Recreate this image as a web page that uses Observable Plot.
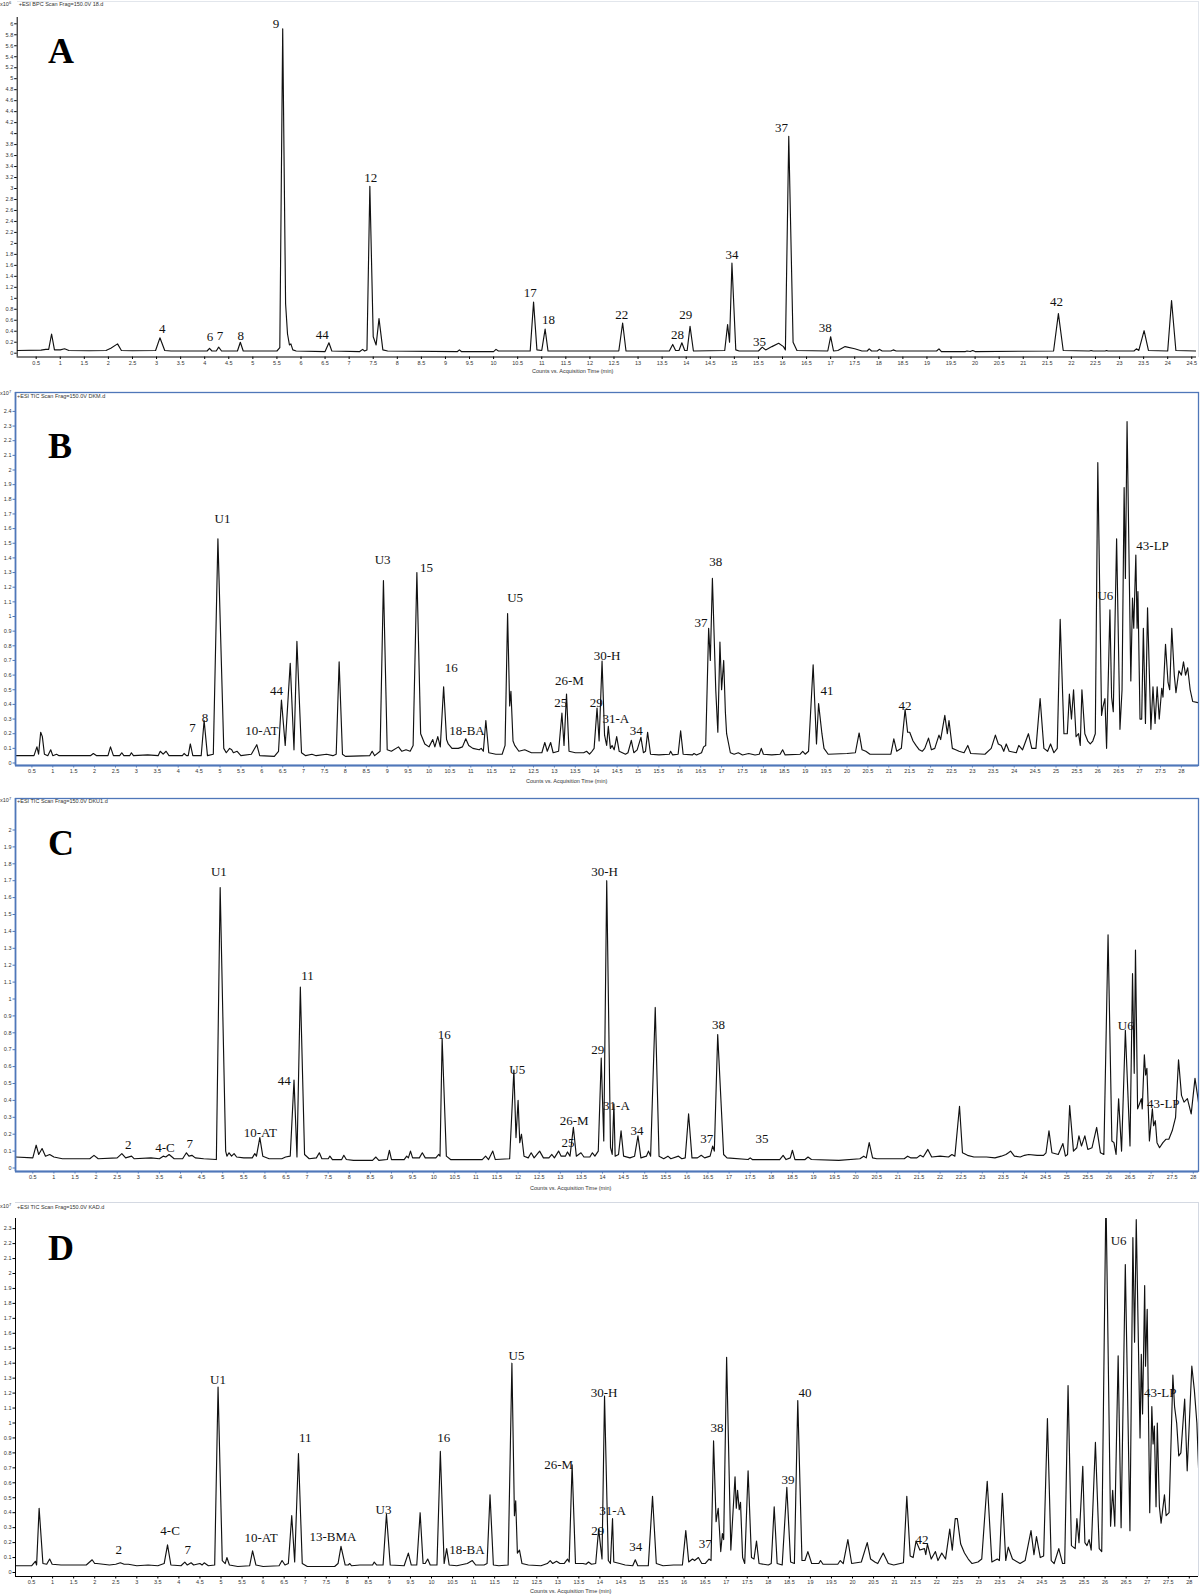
<!DOCTYPE html>
<html><head><meta charset="utf-8">
<script src="https://cdn.jsdelivr.net/npm/d3@7"></script>
<script src="https://cdn.jsdelivr.net/npm/@observablehq/plot@0.6"></script>
<style>
html,body{margin:0;padding:0;background:#fff}
body{width:1200px;height:1596px;position:relative;overflow:hidden;font-family:"Liberation Sans",Arial,sans-serif}
.pane{position:absolute;left:0}
.tiny{position:absolute;font-size:5.5px;line-height:1;color:#333;white-space:nowrap;font-family:"Liberation Sans",Arial,sans-serif}
.tiny sup{font-size:4px;vertical-align:top;position:relative;top:-1px}
.letter{position:absolute;width:60px;text-align:center;font-family:"Liberation Serif","Times New Roman",serif;font-weight:bold;font-size:36px;line-height:1;color:#000}
.box{position:absolute;box-sizing:border-box}
</style></head><body>
<script>
// ---------- Panel A (x10^6 counts) ----------
const A_trace = [[0.11,0.05],[0.6,0.055],[0.7,0.07],[0.76,0.07],[0.82,0.35],[0.88,0.06],[1.0,0.06],[1.09,0.08],[1.18,0.05],[1.6,0.045],[1.95,0.05],[2.05,0.09],[2.19,0.17],[2.27,0.05],[2.5,0.045],[2.98,0.05],[3.07,0.28],[3.17,0.05],[3.3,0.04],[4.05,0.04],[4.1,0.09],[4.15,0.04],[4.24,0.04],[4.29,0.11],[4.35,0.04],[4.68,0.04],[4.74,0.2],[4.8,0.04],[5.5,0.04],[5.56,0.1],[5.62,5.91],[5.68,0.9],[5.72,0.35],[5.76,0.15],[5.79,0.17],[5.83,0.06],[5.9,0.04],[6.5,0.03],[6.58,0.19],[6.64,0.04],[7.22,0.03],[7.28,0.07],[7.32,0.04],[7.37,0.06],[7.43,3.04],[7.5,0.3],[7.56,0.15],[7.62,0.63],[7.7,0.06],[7.8,0.04],[9.25,0.03],[9.29,0.06],[9.33,0.03],[10.0,0.03],[10.05,0.07],[10.1,0.04],[10.76,0.04],[10.83,0.93],[10.9,0.06],[11.0,0.05],[11.07,0.44],[11.13,0.04],[12.6,0.04],[12.68,0.55],[12.75,0.04],[13.65,0.04],[13.72,0.16],[13.78,0.05],[13.85,0.05],[13.91,0.19],[13.97,0.05],[14.02,0.05],[14.08,0.49],[14.15,0.04],[14.8,0.05],[14.86,0.52],[14.9,0.2],[14.95,1.64],[15.03,0.06],[15.1,0.04],[15.5,0.04],[15.58,0.11],[15.65,0.06],[15.78,0.12],[15.92,0.18],[16.02,0.12],[16.06,0.06],[16.13,3.95],[16.22,0.2],[16.3,0.05],[16.94,0.04],[17.0,0.3],[17.06,0.04],[17.15,0.05],[17.3,0.12],[17.5,0.08],[17.65,0.04],[17.76,0.04],[17.8,0.08],[17.85,0.04],[17.97,0.04],[18.01,0.07],[18.07,0.04],[18.25,0.04],[18.3,0.06],[18.36,0.04],[19.2,0.04],[19.25,0.08],[19.3,0.03],[19.8,0.03],[19.83,0.04],[19.9,0.03],[19.95,0.05],[20.0,0.03],[21.63,0.04],[21.73,0.72],[21.83,0.05],[22.37,0.04],[22.41,0.05],[22.45,0.04],[22.7,0.04],[22.73,0.05],[22.76,0.04],[23.3,0.04],[23.35,0.08],[23.4,0.05],[23.51,0.41],[23.6,0.05],[24.0,0.04],[24.08,0.96],[24.17,0.05],[24.6,0.04]];
const A_labels = ["4","6","7","8","9","44","12","17","18","22","28","29","34","35","37","38","42"];
const A_labelT = [3.12,4.11,4.32,4.75,5.48,6.44,7.45,10.76,11.14,12.66,13.82,13.99,14.95,15.52,15.98,16.89,21.69];
const A_labelV = [0.44,0.29,0.32,0.32,6.0,0.34,3.19,1.1,0.61,0.7,0.33,0.69,1.8,0.2,4.1,0.46,0.94];

// ---------- Panel B (x10^7 counts) ----------
const B_trace = [[0.09,0.05],[0.55,0.05],[0.62,0.11],[0.66,0.06],[0.71,0.21],[0.75,0.18],[0.8,0.06],[0.88,0.05],[0.95,0.09],[1.0,0.05],[1.09,0.06],[1.15,0.05],[1.9,0.05],[1.97,0.065],[2.05,0.05],[2.32,0.05],[2.38,0.11],[2.45,0.05],[2.6,0.05],[2.65,0.07],[2.7,0.05],[2.84,0.05],[2.88,0.07],[2.93,0.05],[3.27,0.055],[3.52,0.05],[3.57,0.08],[3.64,0.06],[3.71,0.08],[3.78,0.05],[4.1,0.05],[4.14,0.065],[4.2,0.05],[4.24,0.05],[4.29,0.13],[4.35,0.05],[4.55,0.05],[4.62,0.29],[4.7,0.05],[4.84,0.06],[4.95,1.53],[5.09,0.1],[5.15,0.07],[5.23,0.1],[5.28,0.09],[5.32,0.07],[5.41,0.08],[5.5,0.05],[5.75,0.06],[5.88,0.125],[5.95,0.05],[6.3,0.045],[6.4,0.08],[6.47,0.43],[6.56,0.12],[6.68,0.68],[6.77,0.09],[6.84,0.83],[6.95,0.07],[7.05,0.05],[7.2,0.06],[7.3,0.05],[7.55,0.06],[7.7,0.05],[7.78,0.06],[7.85,0.69],[7.93,0.06],[8.0,0.045],[8.58,0.05],[8.64,0.08],[8.7,0.05],[8.83,0.08],[8.91,1.245],[9.0,0.09],[9.1,0.08],[9.27,0.11],[9.35,0.08],[9.45,0.09],[9.55,0.08],[9.62,0.12],[9.71,1.3],[9.8,0.2],[9.9,0.13],[10.0,0.11],[10.09,0.16],[10.14,0.11],[10.21,0.18],[10.27,0.11],[10.35,0.52],[10.42,0.16],[10.46,0.13],[10.55,0.1],[10.7,0.1],[10.8,0.11],[10.88,0.165],[10.95,0.12],[11.05,0.1],[11.2,0.09],[11.25,0.1],[11.3,0.08],[11.36,0.29],[11.43,0.07],[11.6,0.06],[11.75,0.06],[11.82,0.12],[11.88,1.02],[11.93,0.39],[11.96,0.49],[12.01,0.15],[12.05,0.12],[12.15,0.08],[12.29,0.09],[12.45,0.07],[12.7,0.07],[12.77,0.14],[12.83,0.08],[12.91,0.14],[12.97,0.07],[13.1,0.08],[13.18,0.34],[13.23,0.12],[13.29,0.47],[13.35,0.08],[13.5,0.07],[13.7,0.07],[13.77,0.08],[13.84,0.06],[13.9,0.08],[13.95,0.1],[14.02,0.375],[14.07,0.15],[14.14,0.695],[14.2,0.19],[14.25,0.12],[14.29,0.25],[14.34,0.1],[14.38,0.12],[14.43,0.09],[14.49,0.18],[14.55,0.08],[14.7,0.06],[14.76,0.07],[14.84,0.155],[14.9,0.07],[14.98,0.09],[15.07,0.175],[15.13,0.07],[15.18,0.08],[15.23,0.21],[15.3,0.06],[15.5,0.055],[15.75,0.06],[15.78,0.08],[15.83,0.055],[15.96,0.06],[16.02,0.22],[16.08,0.06],[16.3,0.055],[16.34,0.065],[16.4,0.055],[16.52,0.07],[16.57,0.11],[16.62,0.12],[16.69,0.92],[16.73,0.7],[16.78,1.26],[16.86,0.5],[16.91,0.21],[16.96,0.825],[17.0,0.5],[17.05,0.7],[17.09,0.35],[17.12,0.2],[17.21,0.07],[17.3,0.06],[17.4,0.07],[17.5,0.055],[17.65,0.065],[17.8,0.055],[17.9,0.06],[17.95,0.1],[18.0,0.06],[18.2,0.055],[18.4,0.06],[18.46,0.09],[18.52,0.055],[18.88,0.06],[18.94,0.08],[19.0,0.06],[19.08,0.08],[19.19,0.67],[19.27,0.13],[19.32,0.405],[19.4,0.2],[19.45,0.1],[19.55,0.06],[20.0,0.065],[20.2,0.07],[20.29,0.205],[20.36,0.09],[20.45,0.08],[20.55,0.06],[21.05,0.06],[21.12,0.165],[21.19,0.08],[21.3,0.1],[21.39,0.365],[21.45,0.21],[21.5,0.21],[21.58,0.15],[21.65,0.12],[21.73,0.09],[21.8,0.08],[21.86,0.1],[21.95,0.17],[22.02,0.09],[22.1,0.1],[22.2,0.19],[22.24,0.16],[22.34,0.325],[22.4,0.2],[22.44,0.29],[22.52,0.1],[22.6,0.09],[22.68,0.08],[22.8,0.07],[22.89,0.12],[22.96,0.065],[23.3,0.06],[23.45,0.1],[23.55,0.19],[23.62,0.13],[23.69,0.12],[23.75,0.08],[23.81,0.13],[23.88,0.08],[24.05,0.07],[24.11,0.12],[24.2,0.09],[24.34,0.2],[24.42,0.1],[24.52,0.1],[24.62,0.44],[24.71,0.1],[24.8,0.08],[24.87,0.13],[24.95,0.07],[25.03,0.1],[25.1,0.98],[25.19,0.2],[25.27,0.2],[25.32,0.47],[25.37,0.3],[25.42,0.5],[25.48,0.18],[25.54,0.2],[25.58,0.12],[25.62,0.5],[25.69,0.2],[25.76,0.15],[25.82,0.13],[25.88,0.15],[25.94,0.2],[26.0,2.05],[26.09,0.325],[26.12,0.38],[26.17,0.44],[26.21,0.1],[26.29,1.045],[26.33,0.45],[26.37,0.35],[26.45,1.53],[26.53,0.23],[26.58,0.5],[26.63,1.88],[26.66,1.26],[26.7,2.33],[26.79,0.56],[26.83,1.125],[26.86,0.92],[26.91,1.42],[26.94,0.92],[26.96,1.17],[27.01,0.3],[27.05,0.3],[27.09,0.92],[27.14,0.27],[27.19,1.06],[27.27,0.23],[27.32,0.52],[27.37,0.27],[27.42,0.52],[27.47,0.3],[27.53,0.51],[27.56,0.45],[27.62,0.81],[27.68,0.55],[27.72,0.5],[27.77,0.92],[27.83,0.6],[27.87,0.48],[27.94,0.63],[28.0,0.6],[28.05,0.69],[28.1,0.6],[28.15,0.65],[28.21,0.5],[28.27,0.42],[28.42,0.41]];
const B_labels = ["7","8","U1","10-AT","44","U3","15","16","18-BA","U5","25","26-M","29","30-H","31-A","34","37","38","41","42","U6","43-LP"];
const B_labelT = [4.34,4.64,5.06,6.0,6.35,8.89,9.94,10.53,10.91,12.06,13.15,13.36,14.0,14.26,14.47,14.96,16.51,16.86,19.52,21.39,26.18,27.31];
const B_labelV = [0.24,0.31,1.67,0.22,0.49,1.39,1.33,0.65,0.22,1.13,0.41,0.56,0.41,0.73,0.30,0.22,0.96,1.37,0.49,0.39,1.14,1.48];

// ---------- Panel C (x10^7 counts) ----------
const C_trace = [[0.09,0.065],[0.5,0.06],[0.58,0.135],[0.64,0.08],[0.72,0.115],[0.8,0.07],[0.9,0.08],[1.0,0.065],[1.2,0.055],[1.85,0.055],[1.95,0.075],[2.05,0.055],[2.5,0.06],[2.61,0.085],[2.7,0.06],[2.84,0.07],[2.9,0.055],[3.3,0.06],[3.5,0.055],[3.59,0.07],[3.65,0.065],[3.73,0.08],[3.85,0.055],[4.05,0.055],[4.14,0.09],[4.2,0.07],[4.27,0.075],[4.35,0.06],[4.55,0.055],[4.85,0.05],[4.94,1.66],[5.07,0.1],[5.1,0.07],[5.15,0.09],[5.21,0.07],[5.27,0.085],[5.33,0.065],[5.5,0.06],[5.7,0.06],[5.76,0.085],[5.8,0.07],[5.88,0.18],[5.95,0.07],[6.1,0.055],[6.4,0.055],[6.49,0.065],[6.6,0.07],[6.69,0.52],[6.76,0.065],[6.84,1.07],[6.94,0.08],[7.05,0.055],[7.22,0.06],[7.29,0.09],[7.35,0.055],[7.5,0.055],[7.54,0.07],[7.6,0.05],[7.82,0.05],[7.87,0.075],[7.93,0.05],[8.1,0.045],[8.55,0.045],[8.63,0.065],[8.7,0.045],[8.9,0.05],[8.95,0.105],[9.0,0.05],[9.3,0.05],[9.36,0.07],[9.4,0.06],[9.45,0.1],[9.5,0.06],[9.66,0.06],[9.73,0.09],[9.8,0.06],[10.05,0.06],[10.12,0.08],[10.15,0.07],[10.2,0.765],[10.3,0.07],[10.4,0.05],[11.15,0.05],[11.23,0.07],[11.3,0.05],[11.4,0.1],[11.46,0.05],[11.8,0.055],[11.9,0.58],[11.95,0.18],[12.0,0.4],[12.04,0.15],[12.08,0.2],[12.14,0.07],[12.24,0.06],[12.31,0.09],[12.38,0.06],[12.51,0.1],[12.6,0.06],[12.73,0.06],[12.8,0.08],[12.86,0.06],[12.96,0.1],[13.02,0.07],[13.12,0.07],[13.17,0.095],[13.23,0.07],[13.31,0.24],[13.38,0.07],[13.49,0.09],[13.56,0.065],[13.7,0.065],[13.76,0.09],[13.82,0.07],[13.9,0.1],[13.97,0.65],[14.03,0.16],[14.1,1.7],[14.19,0.12],[14.23,0.08],[14.27,0.38],[14.3,0.07],[14.38,0.08],[14.44,0.22],[14.5,0.07],[14.65,0.06],[14.76,0.07],[14.84,0.19],[14.91,0.06],[15.04,0.07],[15.09,0.1],[15.14,0.07],[15.25,0.95],[15.34,0.07],[15.45,0.055],[15.55,0.07],[15.62,0.055],[15.8,0.07],[15.88,0.055],[15.96,0.06],[16.04,0.32],[16.12,0.06],[16.25,0.06],[16.34,0.075],[16.42,0.06],[16.55,0.07],[16.61,0.13],[16.65,0.1],[16.73,0.79],[16.87,0.08],[16.95,0.06],[17.45,0.05],[17.5,0.06],[17.55,0.05],[18.2,0.05],[18.28,0.075],[18.35,0.05],[18.45,0.06],[18.5,0.105],[18.56,0.05],[18.8,0.05],[18.87,0.065],[18.95,0.05],[19.6,0.045],[20.1,0.055],[20.19,0.07],[20.25,0.06],[20.32,0.15],[20.4,0.06],[20.5,0.055],[21.15,0.055],[21.23,0.07],[21.3,0.06],[21.45,0.06],[21.53,0.075],[21.6,0.065],[21.71,0.11],[21.8,0.065],[22.0,0.07],[22.2,0.065],[22.28,0.08],[22.35,0.07],[22.46,0.365],[22.53,0.09],[22.65,0.075],[22.8,0.065],[23.1,0.065],[23.3,0.06],[23.45,0.07],[23.56,0.08],[23.62,0.09],[23.67,0.1],[23.76,0.07],[23.9,0.065],[24.0,0.075],[24.1,0.08],[24.3,0.075],[24.45,0.075],[24.51,0.09],[24.58,0.22],[24.65,0.09],[24.8,0.08],[24.91,0.145],[24.97,0.07],[25.02,0.08],[25.07,0.37],[25.16,0.1],[25.24,0.12],[25.29,0.19],[25.35,0.13],[25.43,0.19],[25.5,0.11],[25.6,0.12],[25.71,0.24],[25.8,0.09],[25.88,0.08],[25.98,1.38],[26.07,0.16],[26.12,0.15],[26.17,0.08],[26.23,0.41],[26.3,0.1],[26.39,0.815],[26.5,0.13],[26.56,1.15],[26.6,0.56],[26.63,1.29],[26.68,0.35],[26.77,0.41],[26.79,0.35],[26.84,0.67],[26.87,0.55],[26.9,0.59],[26.96,0.16],[27.03,0.35],[27.06,0.25],[27.1,0.28],[27.14,0.15],[27.2,0.12],[27.28,0.15],[27.35,0.17],[27.42,0.17],[27.5,0.22],[27.58,0.3],[27.65,0.64],[27.72,0.43],[27.78,0.39],[27.86,0.41],[27.95,0.32],[28.04,0.53],[28.1,0.43],[28.16,0.32],[28.2,0.58]];
const C_labels = ["2","4-C","7","U1","10-AT","44","11","16","U5","25","26-M","29","30-H","31-A","34","37","38","35","U6","43-LP"];
const C_labelT = [2.76,3.63,4.22,4.91,5.89,6.46,7.01,10.25,11.98,13.18,13.33,13.89,14.05,14.33,14.82,16.47,16.75,17.78,26.4,27.29];
const C_labelV = [0.14,0.12,0.145,1.75,0.21,0.515,1.14,0.79,0.58,0.15,0.28,0.7,1.75,0.37,0.22,0.17,0.85,0.17,0.84,0.38];

// ---------- Panel D (x10^7 counts) ----------
const D_trace = [[0.12,0.045],[0.5,0.045],[0.59,0.075],[0.62,0.05],[0.68,0.43],[0.77,0.06],[0.86,0.055],[0.93,0.09],[0.99,0.055],[1.2,0.05],[1.8,0.05],[1.94,0.085],[2.0,0.06],[2.05,0.06],[2.2,0.055],[2.35,0.05],[2.5,0.055],[2.61,0.065],[2.7,0.055],[2.8,0.055],[3.0,0.045],[3.27,0.05],[3.5,0.045],[3.65,0.06],[3.73,0.185],[3.81,0.05],[4.05,0.045],[4.14,0.07],[4.2,0.05],[4.29,0.065],[4.35,0.05],[4.5,0.06],[4.55,0.05],[4.6,0.065],[4.7,0.045],[4.85,0.05],[4.93,1.24],[5.03,0.08],[5.1,0.06],[5.14,0.1],[5.2,0.05],[5.4,0.04],[5.68,0.045],[5.75,0.145],[5.83,0.05],[6.0,0.04],[6.38,0.045],[6.45,0.08],[6.52,0.05],[6.6,0.06],[6.68,0.38],[6.75,0.07],[6.84,0.795],[6.93,0.06],[7.05,0.04],[7.7,0.04],[7.78,0.06],[7.85,0.175],[7.95,0.05],[8.02,0.05],[8.06,0.06],[8.1,0.045],[8.3,0.05],[8.6,0.05],[8.64,0.07],[8.7,0.05],[8.85,0.05],[8.93,0.39],[9.02,0.05],[9.35,0.045],[9.45,0.13],[9.52,0.05],[9.65,0.05],[9.73,0.4],[9.8,0.06],[9.85,0.06],[9.91,0.09],[9.97,0.05],[10.13,0.05],[10.21,0.81],[10.3,0.06],[10.36,0.16],[10.42,0.05],[10.6,0.045],[10.85,0.06],[10.91,0.07],[10.97,0.08],[11.05,0.05],[11.25,0.05],[11.32,0.06],[11.39,0.52],[11.47,0.05],[11.6,0.045],[11.82,0.05],[11.91,1.4],[11.97,0.38],[12.0,0.48],[12.04,0.13],[12.09,0.15],[12.15,0.06],[12.3,0.05],[12.6,0.045],[12.75,0.06],[12.82,0.08],[12.88,0.06],[12.97,0.075],[13.05,0.06],[13.15,0.06],[13.23,0.09],[13.27,0.07],[13.34,0.72],[13.42,0.06],[13.6,0.06],[13.67,0.055],[13.73,0.07],[13.8,0.055],[13.9,0.06],[13.97,0.29],[14.05,0.09],[14.11,1.18],[14.2,0.08],[14.25,0.06],[14.3,0.36],[14.33,0.07],[14.47,0.06],[14.6,0.05],[14.78,0.045],[14.84,0.085],[14.9,0.045],[15.15,0.045],[15.25,0.51],[15.34,0.06],[15.5,0.045],[15.75,0.05],[15.96,0.05],[16.04,0.28],[16.11,0.07],[16.2,0.09],[16.25,0.08],[16.34,0.1],[16.42,0.06],[16.5,0.06],[16.59,0.09],[16.64,0.08],[16.7,0.88],[16.76,0.34],[16.81,0.43],[16.87,0.14],[16.91,0.26],[16.94,0.22],[17.01,1.44],[17.11,0.15],[17.21,0.64],[17.24,0.43],[17.27,0.55],[17.31,0.42],[17.34,0.47],[17.39,0.1],[17.44,0.06],[17.52,0.68],[17.6,0.1],[17.66,0.09],[17.72,0.21],[17.78,0.06],[18.0,0.05],[18.07,0.06],[18.14,0.44],[18.21,0.06],[18.33,0.05],[18.44,0.57],[18.53,0.07],[18.62,0.06],[18.7,1.15],[18.8,0.08],[18.87,0.08],[18.94,0.14],[19.03,0.06],[19.2,0.06],[19.24,0.08],[19.3,0.055],[19.65,0.055],[19.71,0.08],[19.78,0.06],[19.89,0.22],[19.98,0.06],[20.21,0.07],[20.35,0.2],[20.43,0.09],[20.53,0.07],[20.6,0.06],[20.73,0.13],[20.85,0.06],[20.98,0.05],[21.21,0.065],[21.29,0.51],[21.37,0.11],[21.44,0.1],[21.51,0.21],[21.6,0.15],[21.71,0.16],[21.74,0.12],[21.78,0.19],[21.87,0.09],[21.97,0.14],[22.03,0.08],[22.12,0.13],[22.21,0.09],[22.31,0.29],[22.37,0.15],[22.44,0.36],[22.49,0.36],[22.57,0.19],[22.66,0.13],[22.75,0.09],[22.84,0.06],[22.98,0.07],[23.07,0.09],[23.2,0.61],[23.31,0.07],[23.44,0.09],[23.49,0.08],[23.56,0.53],[23.64,0.08],[23.7,0.17],[23.8,0.09],[23.98,0.06],[24.1,0.08],[24.24,0.28],[24.31,0.12],[24.37,0.24],[24.46,0.1],[24.54,0.11],[24.63,1.03],[24.72,0.08],[24.79,0.06],[24.9,0.16],[24.99,0.06],[25.04,0.06],[25.12,1.25],[25.2,0.18],[25.29,0.16],[25.33,0.36],[25.38,0.2],[25.47,0.71],[25.52,0.2],[25.57,0.18],[25.62,0.22],[25.67,0.15],[25.77,0.87],[25.86,0.16],[25.92,0.14],[26.02,2.53],[26.13,0.31],[26.18,0.55],[26.23,0.31],[26.31,1.45],[26.38,0.3],[26.48,2.06],[26.59,0.28],[26.66,2.24],[26.7,1.54],[26.74,2.36],[26.83,0.9],[26.86,1.46],[26.89,1.06],[26.94,1.92],[26.96,1.38],[27.0,1.76],[27.06,0.4],[27.11,1.11],[27.14,0.86],[27.17,0.98],[27.21,0.44],[27.24,1.0],[27.29,0.44],[27.33,0.33],[27.41,0.52],[27.45,0.38],[27.52,0.4],[27.61,1.32],[27.65,1.11],[27.7,1.0],[27.75,0.78],[27.8,0.8],[27.89,1.16],[27.95,0.68],[28.06,1.38],[28.12,1.22],[28.18,1.0],[28.23,0.62]];
const D_labels = ["2","4-C","7","U1","10-AT","11","13-BMA","U3","16","18-BA","U5","26-M","29","30-H","31-A","34","37","38","39","40","42","U6","43-LP"];
const D_labelT = [2.57,3.79,4.21,4.93,5.95,7.0,7.66,8.86,10.29,10.84,12.02,13.02,13.95,14.1,14.3,14.85,16.5,16.78,18.47,18.87,21.65,26.32,27.31];
const D_labelV = [0.15,0.28,0.15,1.29,0.23,0.9,0.24,0.42,0.9,0.15,1.45,0.72,0.28,1.2,0.41,0.17,0.19,0.97,0.62,1.2,0.22,2.22,1.2];

// ---------- Panel texts ----------
const panelLetters = ["A","B","C","D"];
const panelTitles = ["+ESI BPC Scan Frag=150.0V 18.d","+ESI TIC Scan Frag=150.0V DKM.d","+ESI TIC Scan Frag=150.0V DKU1.d","+ESI TIC Scan Frag=150.0V KAD.d"];
const panelExponents = ["6","7","7","7"];
const xAxisTitle = "Counts vs. Acquisition Time (min)";

// ---------- layout (page pixels) ----------
const layout = [
  {svgTop:0,   height:385, xLeft:16.7, xRight:1196, t0px:11.6, kx:48.15, yTop:17,  yBot:356.5, px0:352.7, k:54.9,  yStep:0.2, yMax:6,   axis:"#000", frame:null,  letterX:61, letterBase:65,  titleY:2,    expY:1.5,  capX:572, capY:369},
  {svgTop:386, height:404, xLeft:15,   xRight:1198, t0px:10.5, kx:41.8,  yTop:392, yBot:765,   px0:762.5, k:146.5, yStep:0.1, yMax:2.4, axis:"#4f77b9", frame:"blue", letterX:60, letterBase:460, titleY:394, expY:391, capX:566, capY:779},
  {svgTop:792, height:404, xLeft:15,   xRight:1198, t0px:11.2, kx:42.2,  yTop:798, yBot:1171,  px0:1167.5,k:169,   yStep:0.1, yMax:2.0, axis:"#4f77b9", frame:"blue", letterX:61, letterBase:857, titleY:799, expY:798, capX:570, capY:1186},
  {svgTop:1197,height:399, xLeft:15,   xRight:1198, t0px:10,   kx:42.1,  yTop:1218,yBot:1576,  px0:1572,  k:149.5, yStep:0.1, yMax:2.3, axis:"#000", frame:"gray", letterX:61, letterBase:1262,titleY:1205, expY:1204, capX:570, capY:1589}
];
const traces = [A_trace, B_trace, C_trace, D_trace];
const labelSets = [[A_labels,A_labelT,A_labelV],[B_labels,B_labelT,B_labelV],[C_labels,C_labelT,C_labelV],[D_labels,D_labelT,D_labelV]];

const fmt = d => String(+d.toFixed(1));

layout.forEach((L, i) => {
  const xDomain = [(L.xLeft - L.t0px) / L.kx, (L.xRight - L.t0px) / L.kx];
  const yDomain = [(L.px0 - L.yBot) / L.k, (L.px0 - L.yTop) / L.k];
  const xt = d3.range(1, Math.floor(xDomain[1] * 2) + 1).map(j => j / 2).filter(t => t > xDomain[0]);
  const yt = d3.range(0, Math.round(L.yMax / L.yStep) + 1).map(j => +(j * L.yStep).toFixed(1));
  const [lt, tt, vt] = labelSets[i];
  const labels = lt.map((s, j) => ({text: s, t: tt[j], v: vt[j]}));
  const pts = traces[i].map(([t, v]) => ({t, v}));
  const marks = [
    Plot.axisX(xt, {anchor:"bottom", tickSize:2.5, tickPadding:1.5, fontSize:5.5, tickFormat:fmt, label:null, stroke:L.axis, fill:"#333"}),
    Plot.axisY(yt, {anchor:"left", tickSize:2.5, tickPadding:1.5, fontSize:5.5, tickFormat:fmt, label:null, stroke:L.axis, fill:"#333"}),
    Plot.line(pts, {x:"t", y:"v", stroke:"#111", strokeWidth:1.15, clip:true}),
    Plot.text(labels, {x:"t", y:"v", text:"text", fontFamily:"Liberation Serif, Times New Roman, serif", fontSize:13, fill:"#111", lineAnchor:"middle", textAnchor:"middle"})
  ];
  if (L.frame === "blue") {
    marks.push(Plot.frame({stroke:L.axis, strokeWidth:1.3}));
    marks.push(Plot.ruleY([yDomain[0]], {stroke:L.axis, strokeWidth:2.2}));
    marks.push(Plot.ruleX([xDomain[0]], {stroke:L.axis, strokeWidth:1.6}));
  } else {
    marks.push(Plot.ruleY([yDomain[0]], {stroke:"#000", strokeWidth:1}));
    marks.push(Plot.ruleX([xDomain[0]], {stroke:"#000", strokeWidth:1}));
  }
  const svg = Plot.plot({
    width: 1200, height: L.height,
    marginLeft: L.xLeft, marginRight: 1200 - L.xRight,
    marginTop: L.yTop - L.svgTop, marginBottom: L.svgTop + L.height - L.yBot,
    x: {domain: xDomain}, y: {domain: yDomain},
    style: {background: "transparent", overflow: "visible", fontFamily: "Liberation Sans, Arial, sans-serif"},
    marks
  });
  const wrap = document.createElement("div");
  wrap.className = "pane";
  wrap.style.top = L.svgTop + "px";
  wrap.appendChild(svg);
  document.body.appendChild(wrap);

  if (L.frame === "gray") {
    const b = document.createElement("div");
    b.className = "box";
    b.style.cssText += `left:${L.xLeft}px;top:${L.svgTop + 4.5}px;width:${L.xRight - L.xLeft + 1}px;height:${L.yBot - L.svgTop - 4.5}px;border-top:1px solid #d4d9e2;border-right:1px solid #d4d9e2;`;
    document.body.appendChild(b);
  }
  if (i === 0) {
    const b = document.createElement("div");
    b.className = "box";
    b.style.cssText += `left:${L.xLeft}px;top:1px;width:${L.xRight - L.xLeft + 3}px;height:${L.yBot - 1}px;border-top:1px solid #e2e6ec;border-right:1px solid #e2e6ec;`;
    document.body.appendChild(b);
  }

  const let_ = document.createElement("div");
  let_.className = "letter";
  let_.textContent = panelLetters[i];
  let_.style.left = (L.letterX - 30) + "px";
  let_.style.top = (L.letterBase - 32) + "px";
  document.body.appendChild(let_);

  const ex = document.createElement("div");
  ex.className = "tiny";
  ex.innerHTML = "x10<sup>" + panelExponents[i] + "</sup>";
  ex.style.left = "0px"; ex.style.top = L.expY + "px";
  document.body.appendChild(ex);

  const ti = document.createElement("div");
  ti.className = "tiny";
  ti.textContent = panelTitles[i];
  ti.style.left = (L.xLeft + 2) + "px"; ti.style.top = L.titleY + "px";
  document.body.appendChild(ti);

  const cap = document.createElement("div");
  cap.className = "tiny";
  cap.textContent = xAxisTitle;
  cap.style.left = (L.capX - 40) + "px"; cap.style.width = "80px"; cap.style.textAlign = "center";
  cap.style.top = L.capY + "px";
  document.body.appendChild(cap);
});
</script>
</body></html>
